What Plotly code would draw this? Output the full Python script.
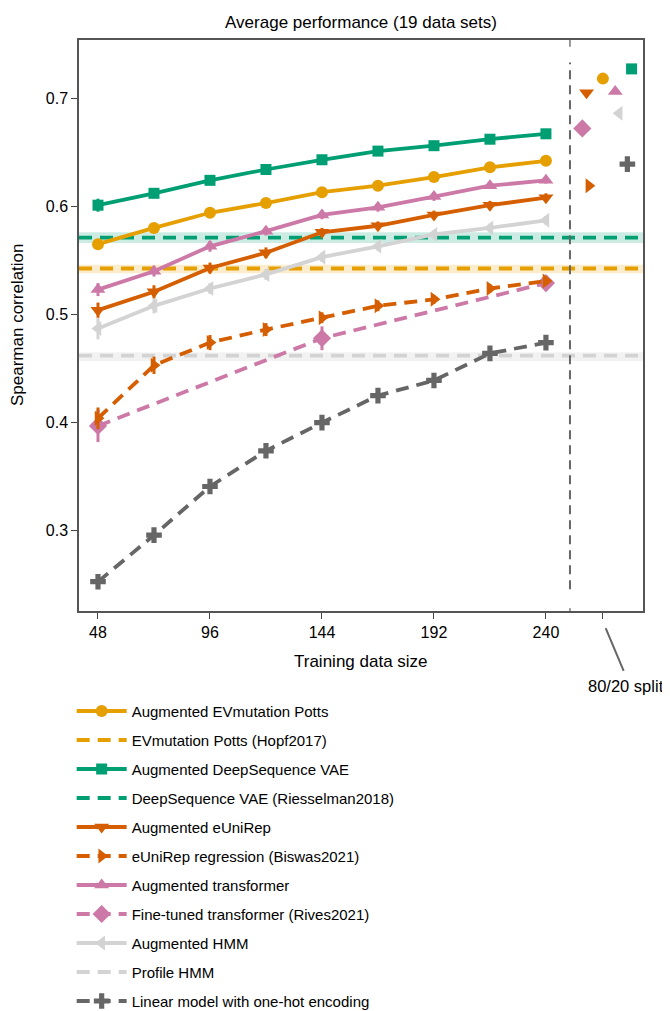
import plotly.graph_objects as go

# ---------------- data ----------------
sizes = [48, 72, 96, 120, 144, 168, 192, 216, 240]
x_ticks = [48, 96, 144, 192, 240]
split_tick = 264.4          # position of the "80/20 split" column
split_sep = 250.3           # dashed separator between the two regimes

aug_evmut = [0.565, 0.580, 0.594, 0.603, 0.613, 0.619, 0.627, 0.636, 0.642]
aug_evmut_err = [0.004, 0.003, 0.003, 0.003, 0.003, 0.003, 0.003, 0.003, 0.003]
aug_vae = [0.601, 0.612, 0.624, 0.634, 0.643, 0.651, 0.656, 0.662, 0.667]
aug_vae_err = [0.006, 0.004, 0.004, 0.004, 0.004, 0.003, 0.003, 0.003, 0.003]
aug_unirep = [0.504, 0.521, 0.543, 0.557, 0.576, 0.582, 0.592, 0.601, 0.608]
aug_unirep_err = [0.007, 0.006, 0.005, 0.005, 0.004, 0.004, 0.004, 0.004, 0.004]
unirep_reg = [0.404, 0.453, 0.474, 0.486, 0.497, 0.508, 0.514, 0.524, 0.531]
unirep_reg_err = [0.010, 0.008, 0.007, 0.006, 0.005, 0.005, 0.004, 0.004, 0.004]
aug_trans = [0.523, 0.540, 0.563, 0.577, 0.592, 0.599, 0.609, 0.619, 0.624]
aug_trans_err = [0.006, 0.005, 0.005, 0.004, 0.004, 0.004, 0.004, 0.003, 0.003]
ft_sizes = [48, 144, 240]
ft_trans = [0.397, 0.478, 0.529]
ft_trans_err = [0.015, 0.011, 0.007]
aug_hmm = [0.487, 0.508, 0.524, 0.537, 0.553, 0.563, 0.574, 0.580, 0.587]
aug_hmm_err = [0.010, 0.007, 0.005, 0.005, 0.004, 0.004, 0.004, 0.004, 0.004]
linear = [0.253, 0.296, 0.341, 0.374, 0.400, 0.425, 0.439, 0.464, 0.474]
linear_err = [0.006, 0.005, 0.005, 0.004, 0.004, 0.004, 0.004, 0.004, 0.004]

# baselines (value, low, high)
evmut_base = [0.5425, 0.538, 0.546]
vae_base = [0.571, 0.566, 0.576]
hmm_base = [0.462, 0.457, 0.465]

# 80/20 split results: x position (jittered) and value
split_x = {
    "Augmented EVmutation Potts": 264.4,
    "Augmented DeepSequence VAE": 276.7,
    "Augmented eUniRep": 257.4,
    "eUniRep regression (Biswas2021)": 258.4,
    "Augmented transformer": 269.7,
    "Fine-tuned transformer (Rives2021)": 255.6,
    "Augmented HMM": 271.4,
    "Linear model with one-hot encoding": 274.9,
}
split_y = {
    "Augmented EVmutation Potts": 0.718,
    "Augmented DeepSequence VAE": 0.727,
    "Augmented eUniRep": 0.705,
    "eUniRep regression (Biswas2021)": 0.619,
    "Augmented transformer": 0.706,
    "Fine-tuned transformer (Rives2021)": 0.672,
    "Augmented HMM": 0.686,
    "Linear model with one-hot encoding": 0.639,
}

x_range = [39.86, 281.6]
y_range = [0.2259, 0.7537]

# ---------------- styles ----------------
C_EV = "#E69F00"
C_VAE = "#009E73"
C_UNI = "#D55E00"
C_TR = "#CC79A7"
C_HMM = "#D3D3D3"
C_LIN = "#666666"
FONT = "Liberation Sans, Arial, sans-serif"
DASH = "13px,8px"
LW = 3.8
W, H = 662, 1003   # page body adds an 8px offset

fig = go.Figure()

def add_series(name, xs, ys, err, color, symbol, dash, msize, rank):
    fig.add_trace(go.Scatter(
        x=xs, y=ys, name=name, mode="lines+markers",
        legendgroup=name, legendrank=rank,
        line=dict(color=color, width=LW, dash=dash),
        marker=dict(color=color, symbol=symbol, size=msize, line=dict(width=0)),
        error_y=dict(type="data", array=err, color=color, thickness=3, width=0),
    ))
    if name in split_x:
        fig.add_trace(go.Scatter(
            x=[split_x[name]], y=[split_y[name]], mode="markers",
            legendgroup=name, showlegend=False,
            marker=dict(color=color, symbol=symbol, size=msize, line=dict(width=0)),
        ))

def add_baseline(name, base, color, band, rank):
    fig.add_shape(type="rect", xref="paper", x0=0, x1=1, y0=base[1], y1=base[2],
                  fillcolor=band, line=dict(width=0), layer="below")
    fig.add_shape(type="line", xref="paper", x0=0, x1=1, y0=base[0], y1=base[0],
                  line=dict(color=color, width=LW, dash=DASH), layer="below")
    fig.add_trace(go.Scatter(
        x=[None], y=[None], name=name, mode="lines", legendgroup=name, legendrank=rank,
        line=dict(color=color, width=LW, dash=DASH)))

add_baseline("EVmutation Potts (Hopf2017)", evmut_base, C_EV, "rgba(230,159,0,0.2)", 2)
add_baseline("DeepSequence VAE (Riesselman2018)", vae_base, C_VAE, "rgba(0,158,115,0.2)", 4)
add_baseline("Profile HMM", hmm_base, C_HMM, "rgba(211,211,211,0.3)", 10)

add_series("Augmented HMM", sizes, aug_hmm, aug_hmm_err, C_HMM, "triangle-left", "solid", 13, 9)
add_series("Fine-tuned transformer (Rives2021)", ft_sizes, ft_trans, ft_trans_err, C_TR, "diamond", DASH, 14, 8)
add_series("eUniRep regression (Biswas2021)", sizes, unirep_reg, unirep_reg_err, C_UNI, "triangle-right", DASH, 13, 6)
add_series("Linear model with one-hot encoding", sizes, linear, linear_err, C_LIN, "cross", DASH, 13, 11)
add_series("Augmented eUniRep", sizes, aug_unirep, aug_unirep_err, C_UNI, "triangle-down", "solid", 13, 5)
add_series("Augmented transformer", sizes, aug_trans, aug_trans_err, C_TR, "triangle-up", "solid", 13, 7)
add_series("Augmented EVmutation Potts", sizes, aug_evmut, aug_evmut_err, C_EV, "circle", "solid", 12, 1)
add_series("Augmented DeepSequence VAE", sizes, aug_vae, aug_vae_err, C_VAE, "square", "solid", 11, 3)

# split separator and its top / bottom ticks
fig.add_shape(type="line", x0=split_sep, x1=split_sep, y0=0.246, y1=0.733,
              line=dict(color="#666666", width=2, dash="9px,6px"))
fig.add_shape(type="line", x0=split_sep, x1=split_sep, yref="paper", y0=1, y1=0.988,
              line=dict(color="#555555", width=1.2))
fig.add_shape(type="line", x0=split_sep, x1=split_sep, yref="paper", y0=0, y1=0.005,
              line=dict(color="#555555", width=1.2))
# pointer to the 80/20 split tick
fig.add_shape(type="line", x0=265.6, x1=273.3, yref="paper", y0=-0.030, y1=-0.105,
              line=dict(color="#666666", width=2))
fig.add_annotation(x=274.3, y=-0.131, yref="paper", text="80/20 split", showarrow=False,
                   xanchor="center", yanchor="middle", font=dict(size=16.5, color="black", family=FONT))

fig.add_annotation(x=0.5, xref="paper", y=-0.088, yref="paper", text="Training data size",
                   showarrow=False, xanchor="center", yanchor="middle",
                   font=dict(size=17, color="black", family=FONT))
fig.add_annotation(x=-0.108, xref="paper", y=0.501, yref="paper", text="Spearman correlation",
                   showarrow=False, textangle=-90, xanchor="center", yanchor="middle",
                   font=dict(size=17, color="black", family=FONT))

fig.update_layout(
    width=W, height=H,
    margin=dict(l=71, r=27, t=32, b=400, autoexpand=False),
    paper_bgcolor="white", plot_bgcolor="white",
    font=dict(family=FONT, size=16, color="black"),
    title=dict(text="Average performance (19 data sets)", x=0.5, xref="paper",
               y=1 - 14 / H, yanchor="middle", xanchor="center",
               font=dict(size=17, color="black", family=FONT)),
    showlegend=True,
    legend=dict(x=-0.013, y=-0.1467, xanchor="left", yanchor="top", itemwidth=50,
                tracegroupgap=6.5, font=dict(size=15, family=FONT, color="black"),
                bgcolor="rgba(0,0,0,0)"),
    xaxis=dict(range=x_range, showgrid=False, zeroline=False,
               tickvals=x_ticks + [split_tick],
               ticktext=[str(v) for v in x_ticks] + [""],
               ticks="outside", ticklen=6, tickwidth=1.2, tickcolor="#444444",
               showline=True, linecolor="#555555", linewidth=1.5, mirror=True,
               tickfont=dict(size=16)),
    yaxis=dict(range=y_range, showgrid=False, zeroline=False,
               tickvals=[0.3, 0.4, 0.5, 0.6, 0.7], ticktext=["0.3", "0.4", "0.5", "0.6", "0.7"],
               ticks="outside", ticklen=6, tickwidth=1.2, tickcolor="#444444",
               showline=True, linecolor="#555555", linewidth=1.5, mirror=True,
               tickfont=dict(size=16)),
)

fig.write_html("out.html")
